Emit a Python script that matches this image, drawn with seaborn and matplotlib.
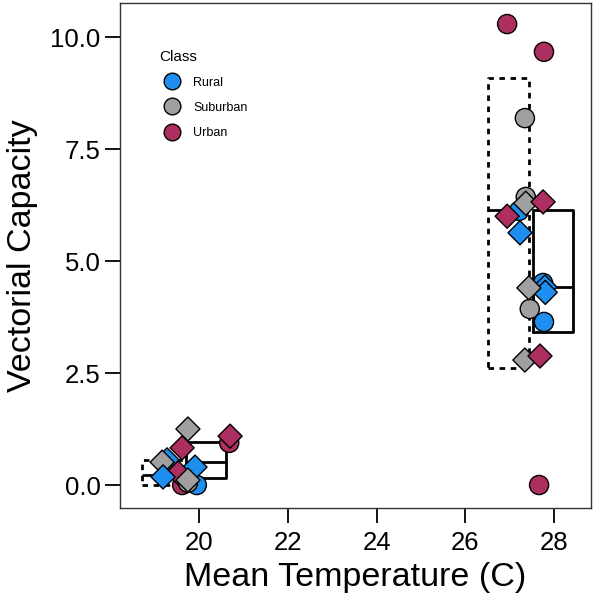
import pandas as pd
import matplotlib.pyplot as plt
import seaborn as sns
from matplotlib.lines import Line2D

# circles (dashed boxes)
circle_x = [20.68, 19.62, 19.95, 19.75,
            26.94, 27.77, 27.34, 27.36, 27.21, 27.75, 27.45, 27.77, 27.66]
circle_y = [0.94, 0.0, 0.0, 0.05,
            10.29, 9.67, 8.19, 6.43, 6.12, 4.51, 3.93, 3.64, 0.0]
circle_cls = ['Urban', 'Urban', 'Rural', 'Suburban',
              'Urban', 'Urban', 'Suburban', 'Suburban', 'Rural', 'Rural', 'Suburban', 'Rural', 'Urban']

# diamonds (solid boxes)
diamond_x = [19.75, 19.62, 20.70, 19.28, 19.17, 19.91, 19.53, 19.19, 19.75,
             27.36, 27.75, 26.94, 27.23, 27.79, 27.80, 27.43, 27.34, 27.68]
diamond_y = [1.25, 0.83, 1.09, 0.56, 0.51, 0.40, 0.27, 0.18, 0.11,
             6.29, 6.32, 6.00, 5.63, 4.42, 4.30, 4.40, 2.79, 2.88]
diamond_cls = ['Suburban', 'Urban', 'Urban', 'Rural', 'Suburban', 'Rural', 'Urban', 'Rural', 'Suburban',
               'Suburban', 'Urban', 'Urban', 'Rural', 'Rural', 'Rural', 'Suburban', 'Suburban', 'Urban']

# box summaries: centre, lower, median, upper
dashed_pos = [19.17, 26.97]
dashed_lo = [0.0, 2.61]
dashed_med = [0.22, 6.14]
dashed_hi = [0.55, 9.08]
solid_pos = [20.15, 27.97]
solid_lo = [0.16, 3.42]
solid_med = [0.51, 4.42]
solid_hi = [0.96, 6.14]

classes = ['Rural', 'Suburban', 'Urban']
palette = {'Rural': '#1e8ff0', 'Suburban': '#a0a0a0', 'Urban': '#ad2f61'}

sns.set_style('ticks')
plt.rcParams['font.family'] = ['Liberation Sans', 'DejaVu Sans']
plt.rcParams['text.color'] = 'black'
plt.rcParams['axes.labelcolor'] = 'black'
plt.rcParams['xtick.color'] = 'black'
plt.rcParams['ytick.color'] = 'black'

df_c = pd.DataFrame({'temp': circle_x, 'vc': circle_y, 'Class': circle_cls})
df_d = pd.DataFrame({'temp': diamond_x, 'vc': diamond_y, 'Class': diamond_cls})

fig = plt.figure(figsize=(5.97, 5.98), dpi=100)
ax = fig.add_axes([0.201, 0.150, 0.789, 0.845])


def stats(lo, med, hi):
    return [{'q1': a, 'med': m, 'q3': b, 'whislo': a, 'whishi': b, 'fliers': []}
            for a, m, b in zip(lo, med, hi)]


ax.bxp(stats(dashed_lo, dashed_med, dashed_hi), positions=dashed_pos, widths=0.92,
       showcaps=False, showfliers=False, manage_ticks=False,
       boxprops=dict(color='black', lw=2, linestyle=(0, (2, 2))),
       medianprops=dict(color='black', lw=2),
       whiskerprops=dict(lw=0))
ax.bxp(stats(solid_lo, solid_med, solid_hi), positions=solid_pos, widths=0.9,
       showcaps=False, showfliers=False, manage_ticks=False,
       boxprops=dict(color='black', lw=2),
       medianprops=dict(color='black', lw=2),
       whiskerprops=dict(lw=0))

sns.scatterplot(data=df_c, x='temp', y='vc', hue='Class', palette=palette, marker='o',
                s=190, edgecolor='black', linewidth=1, legend=False, ax=ax, zorder=3)
sns.scatterplot(data=df_d, x='temp', y='vc', hue='Class', palette=palette, marker='D',
                s=150, edgecolor='black', linewidth=1, legend=False, ax=ax, zorder=3)

ax.set_xlim(18.22, 28.83)
ax.set_ylim(-0.52, 10.76)
ax.set_xticks([20, 22, 24, 26, 28])
ax.set_yticks([0, 2.5, 5, 7.5, 10])
ax.set_yticklabels(['0.0', '2.5', '5.0', '7.5', '10.0'])
ax.tick_params(direction='out', length=10.5, width=1.3, color='black', labelcolor='black',
               labelsize=18.5, pad=3.5)
ax.tick_params(axis='x', pad=6)
for sp in ax.spines.values():
    sp.set_visible(True)
    sp.set_color('#333333')
    sp.set_linewidth(1)

ax.set_xlabel('Mean Temperature (C)', fontsize=24.5, labelpad=5)
ax.set_ylabel('Vectorial Capacity', fontsize=24.5, labelpad=9)

handles = [Line2D([], [], marker='o', ls='', markersize=12, markerfacecolor=palette[c],
                  markeredgecolor='black', markeredgewidth=1, label=c) for c in classes]
ax.legend(handles=handles, title='Class', loc='upper left', bbox_to_anchor=(0.06, 0.93),
          frameon=False, fontsize=9, title_fontsize=11, labelspacing=1.05,
          handletextpad=0.7, alignment='left')

plt.savefig('out.png', dpi=100)
